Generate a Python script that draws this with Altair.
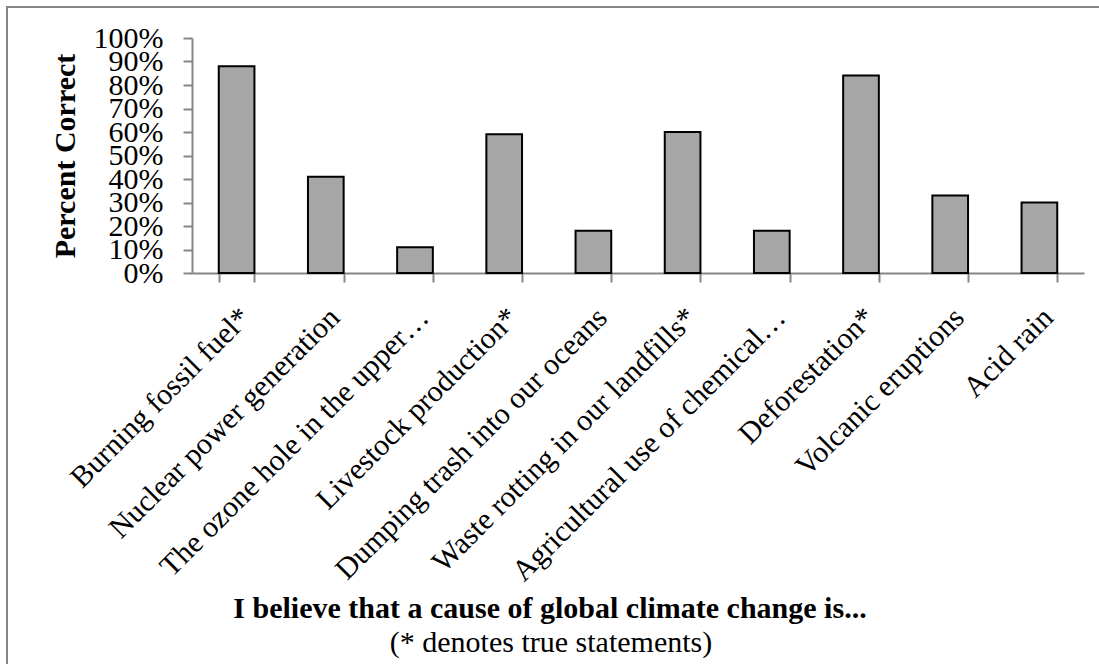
import altair as alt
import pandas as pd

categories = [
    "Burning fossil fuel*",
    "Nuclear power generation",
    "The ozone hole in the upper…",
    "Livestock production*",
    "Dumping trash into our oceans",
    "Waste rotting in our landfills*",
    "Agricultural use of chemical…",
    "Deforestation*",
    "Volcanic eruptions",
    "Acid rain",
]
values = [0.88, 0.41, 0.11, 0.59, 0.18, 0.60, 0.18, 0.84, 0.33, 0.30]
y_ticks = [0, 0.1, 0.2, 0.3, 0.4, 0.5, 0.6, 0.7, 0.8, 0.9, 1.0]
x_title = "I believe that a cause of global climate change is..."
note = "(* denotes true statements)"

df = pd.DataFrame({"cause": categories, "pct": values})

FONT = "Liberation Serif"
W, H = 892, 235

bars = alt.Chart(df).mark_bar(
    color="#a6a6a6", stroke="#000000", strokeWidth=2
).encode(
    x=alt.X(
        "cause:N",
        sort=categories,
        scale=alt.Scale(paddingInner=0.6, paddingOuter=0.3),
        axis=alt.Axis(
            title=x_title,
            titleFont=FONT,
            titleFontSize=30,
            titleFontWeight="bold",
            titleColor="#000000",
            titleX=357.5,
            titleY=344,
            titleAlign="center",
            titleBaseline="alphabetic",
            labelFont=FONT,
            labelFontSize=30,
            labelColor="#000000",
            labelAngle=-45,
            labelAlign="right",
            labelBaseline="top",
            labelPadding=20,
            labelOffset=-2,
            labelLimit=0,
            labelOverlap=False,
            tickBand="extent",
            tickSize=9,
            tickColor="#868686",
            tickWidth=2,
            domainColor="#868686",
            domainWidth=2,
        ),
    ),
    y=alt.Y(
        "pct:Q",
        scale=alt.Scale(domain=[0, 1], nice=False),
        axis=alt.Axis(
            title="Percent Correct",
            titleFont=FONT,
            titleFontSize=30,
            titleFontWeight="bold",
            titleColor="#000000",
            titleX=-127,
            titleY=H / 2,
            titleAngle=270,
            titleAlign="center",
            titleBaseline="middle",
            values=y_ticks,
            format=".0%",
            labelFont=FONT,
            labelFontSize=30,
            labelColor="#000000",
            labelPadding=20,
            labelOverlap=False,
            labelBaseline="middle",
            grid=False,
            tickSize=9,
            tickColor="#868686",
            tickWidth=2,
            domainColor="#868686",
            domainWidth=2,
        ),
    ),
)

note_layer = alt.Chart(pd.DataFrame({"t": [note]})).mark_text(
    font=FONT, fontSize=30, color="#000000", align="center", baseline="alphabetic"
).encode(text="t:N", x=alt.value(359), y=alt.value(614))

frame = alt.Chart(pd.DataFrame({"t": [0]})).mark_rect(
    fill=None, stroke="#868686", strokeWidth=2, clip=False
).encode(
    x=alt.value(-185), x2=alt.value(1100 - 192 + 20),
    y=alt.value(-31), y2=alt.value(664 - 38 + 20),
)

chart = alt.layer(frame, bars, note_layer).properties(
    width=W,
    height=H,
    autosize=alt.AutoSizeParams(type="none"),
    padding={"left": 192, "top": 38, "right": 1099 - 192 - W, "bottom": 664 - 38 - H},
    background="#ffffff",
).configure_view(stroke=None)

chart.save("out.html", embed_options={"renderer": "svg", "actions": False})
